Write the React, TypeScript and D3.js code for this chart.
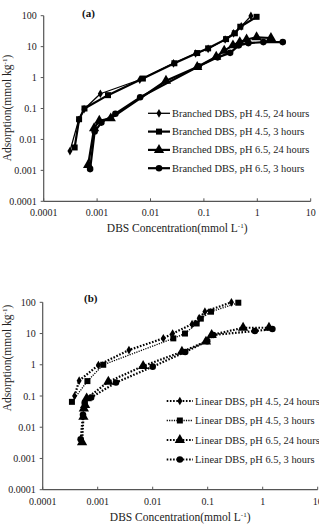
import React, { useEffect, useRef } from 'react';
import * as d3 from 'd3';

// DBS adsorption isotherms, branched (a) and linear (b), log-log axes
const xTicks = [0.0001, 0.001, 0.01, 0.1, 1, 10];
const yTicks = [0.0001, 0.001, 0.01, 0.1, 1, 10, 100];

// (a) branched DBS
const brPh45h24X = [0.00031, 0.00045, 0.00057, 0.00115, 0.0063, 0.027, 0.07, 0.12, 0.25, 0.36, 0.5, 0.76];
const brPh45h24Y = [0.0042, 0.042, 0.095, 0.3, 0.85, 2.9, 6.0, 8.5, 17, 27, 45, 98];
const brPh45h3X = [0.00038, 0.00046, 0.00058, 0.0016, 0.0072, 0.028, 0.075, 0.12, 0.26, 0.38, 0.48, 0.97];
const brPh45h3Y = [0.0055, 0.045, 0.1, 0.27, 0.93, 2.9, 6.2, 8.8, 17.5, 27, 44, 92];
const brPh65h24X = [0.00068, 0.00088, 0.0011, 0.0018, 0.0195, 0.075, 0.17, 0.24, 0.35, 0.47, 0.63, 0.97, 1.8];
const brPh65h24Y = [0.0015, 0.023, 0.04, 0.048, 0.79, 2.2, 4.7, 7.4, 11, 14, 17, 20, 19];
const brPh65h3X = [0.00074, 0.0009, 0.0012, 0.0022, 0.0064, 0.08, 0.18, 0.31, 0.45, 0.68, 1.3, 3.0];
const brPh65h3Y = [0.0011, 0.018, 0.035, 0.068, 0.23, 2.3, 4.5, 6.3, 11, 13, 14, 14];

// (b) linear DBS
const lnPh45h24X = [0.00038, 0.00046, 0.00103, 0.0037, 0.0156, 0.023, 0.052, 0.07, 0.089, 0.27];
const lnPh45h24Y = [0.1, 0.31, 0.98, 2.96, 7.0, 10, 20, 31, 50, 100];
const lnPh45h3X = [0.00034, 0.00065, 0.00126, 0.0237, 0.0386, 0.063, 0.075, 0.115, 0.36];
const lnPh45h3Y = [0.065, 0.3, 1.0, 7.0, 10, 21, 30, 50, 97];
const lnPh65h24X = [0.00052, 0.00055, 0.00056, 0.00059, 0.00063, 0.00156, 0.0067, 0.034, 0.093, 0.118, 0.44, 1.3];
const lnPh65h24Y = [0.0033, 0.0215, 0.04, 0.051, 0.084, 0.285, 0.91, 2.6, 5.5, 9.0, 15.3, 15.3];
const lnPh65h3X = [0.00049, 0.00054, 0.00058, 0.00076, 0.00215, 0.01, 0.039, 0.098, 0.126, 0.72, 1.5];
const lnPh65h3Y = [0.0041, 0.025, 0.06, 0.09, 0.27, 0.87, 2.57, 5.7, 9, 12, 13.9];

const brNames = [
  'Branched DBS, pH 4.5, 24 hours',
  'Branched DBS, pH 4.5, 3 hours',
  'Branched DBS, pH 6.5, 24 hours',
  'Branched DBS, pH 6.5, 3 hours',
];
const lnNames = [
  'Linear DBS, pH 4.5, 24 hours',
  'Linear DBS, pH 4.5, 3 hours',
  'Linear DBS, pH 6.5, 24 hours',
  'Linear DBS, pH 6.5, 3 hours',
];

const symbols = [d3.symbolDiamond, d3.symbolSquare, d3.symbolTriangle, d3.symbolCircle];
const symbolSizes = [22, 36, 46, 34];

const FONT = '"Liberation Serif", "Times New Roman", serif';

const zip = (xs: number[], ys: number[]) => xs.map((x, i) => [x, ys[i]] as [number, number]);

function drawPanel(svg: any, opts: any) {
  const { left, right, top, bottom, series, names, tag, dotted, legend, yLabelY } = opts;
  const x = d3.scaleLog().domain([1e-4, 10]).range([left, right]);
  const y = d3.scaleLog().domain([1e-4, 100]).range([bottom, top]);
  const g = svg.append('g');

  // axes
  g.append('line').attr('x1', left).attr('x2', left).attr('y1', top).attr('y2', bottom)
    .attr('stroke', '#555').attr('stroke-width', 1.2);
  g.append('line').attr('x1', left).attr('x2', right).attr('y1', bottom).attr('y2', bottom)
    .attr('stroke', '#555').attr('stroke-width', 1.2);

  const fmt = d3.format('~g');
  yTicks.forEach((t) => {
    g.append('line').attr('x1', left - 3).attr('x2', left).attr('y1', y(t)).attr('y2', y(t))
      .attr('stroke', '#555');
    g.append('text').attr('x', left - 7).attr('y', y(t) + 3.5).attr('text-anchor', 'end')
      .attr('font-family', FONT).attr('font-size', 10).attr('fill', '#222').text(fmt(t));
  });
  xTicks.forEach((t) => {
    g.append('line').attr('x1', x(t)).attr('x2', x(t)).attr('y1', bottom - 3).attr('y2', bottom)
      .attr('stroke', '#555');
    g.append('text').attr('x', x(t)).attr('y', bottom + 15).attr('text-anchor', 'middle')
      .attr('font-family', FONT).attr('font-size', 10).attr('fill', '#222').text(fmt(t));
  });

  // axis titles
  const xt = g.append('text').attr('x', (left + right) / 2).attr('y', bottom + 31)
    .attr('text-anchor', 'middle').attr('font-family', FONT).attr('font-size', 11.5).attr('fill', '#222');
  xt.append('tspan').text('DBS Concentration(mmol L');
  xt.append('tspan').attr('dy', -4).attr('font-size', 7).text('-1');
  xt.append('tspan').attr('dy', 4).text(')');

  const yt = g.append('text').attr('transform', `translate(11,${yLabelY}) rotate(-90)`)
    .attr('text-anchor', 'middle').attr('font-family', FONT).attr('font-size', 11.5).attr('fill', '#222');
  yt.append('tspan').text('Adsorption(mmol kg');
  yt.append('tspan').attr('dy', -4).attr('font-size', 7).text('-1');
  yt.append('tspan').attr('dy', 4).text(')');

  g.append('text').attr('x', tag.x).attr('y', tag.y).attr('font-family', FONT)
    .attr('font-size', 11).attr('font-weight', 'bold').attr('fill', '#111').text(tag.text);

  const line = d3.line<[number, number]>().x((d) => x(d[0])).y((d) => y(d[1]));

  const lineStyle = (sel: any, i: number) => {
    if (dotted) {
      sel.attr('stroke-width', i === 1 ? 1.3 : 2.2).attr('stroke-dasharray', i === 1 ? '1.2,1.2' : '1.6,1.6');
    } else {
      sel.attr('stroke-width', i === 0 ? 1.3 : 2.2);
    }
    return sel;
  };

  series.forEach((pts: [number, number][], i: number) => {
    const p = g.append('path').attr('d', line(pts)).attr('fill', 'none').attr('stroke', '#000')
      .attr('stroke-linejoin', 'round');
    lineStyle(p, i);
    const sym = d3.symbol().type(symbols[i]).size(symbolSizes[i]);
    g.selectAll(null).data(pts).enter().append('path')
      .attr('d', sym)
      .attr('transform', (d: [number, number]) => `translate(${x(d[0])},${y(d[1])})`)
      .attr('fill', '#000');
  });

  // legend
  names.forEach((name: string, i: number) => {
    const ly = legend.y + i * legend.step;
    const p = g.append('line').attr('x1', legend.x0).attr('x2', legend.x1).attr('y1', ly).attr('y2', ly)
      .attr('stroke', '#000');
    lineStyle(p, i);
    g.append('path').attr('d', d3.symbol().type(symbols[i]).size(symbolSizes[i]))
      .attr('transform', `translate(${(legend.x0 + legend.x1) / 2},${ly})`).attr('fill', '#000');
    g.append('text').attr('x', legend.x1 + 2).attr('y', ly + 3.5).attr('font-family', FONT)
      .attr('font-size', 10.4).attr('fill', '#222').text(name);
  });
}

export default function App() {
  const ref = useRef<SVGSVGElement>(null);

  useEffect(() => {
    const svg = d3.select(ref.current);
    svg.selectAll('*').remove();

    drawPanel(svg, {
      left: 43.7, right: 310.7, top: 15.7, bottom: 201.3,
      series: [
        zip(brPh45h24X, brPh45h24Y),
        zip(brPh45h3X, brPh45h3Y),
        zip(brPh65h24X, brPh65h24Y),
        zip(brPh65h3X, brPh65h3Y),
      ],
      names: brNames,
      tag: { x: 82, y: 17, text: '(a)' },
      dotted: false,
      legend: { x0: 148, x1: 170, y: 113.3, step: 18.3 },
      yLabelY: 108,
    });

    drawPanel(svg, {
      left: 42.7, right: 317.7, top: 302.3, bottom: 489.7,
      series: [
        zip(lnPh45h24X, lnPh45h24Y),
        zip(lnPh45h3X, lnPh45h3Y),
        zip(lnPh65h24X, lnPh65h24Y),
        zip(lnPh65h3X, lnPh65h3Y),
      ],
      names: lnNames,
      tag: { x: 84, y: 302, text: '(b)' },
      dotted: true,
      legend: { x0: 166.7, x1: 193, y: 401, step: 19.5 },
      yLabelY: 358,
    });
  }, []);

  return (
    <svg ref={ref} width={319} height={528}
      style={{ position: 'absolute', left: 0, top: 0, background: '#fff' }} />
  );
}
